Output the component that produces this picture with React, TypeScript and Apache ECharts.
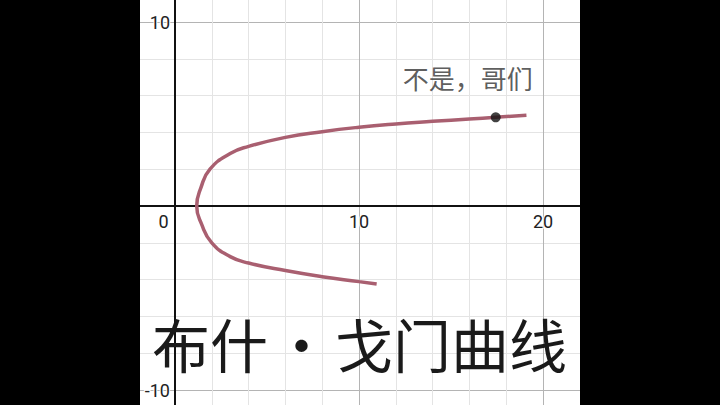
import React, { useEffect, useRef } from "react";
import * as echarts from "echarts";

// Curve, ordered from the lower end to the upper end
const curveX = [10.96, 10, 8, 6, 4, 3, 2, 1.45, 1.18, 1.41, 1.9, 3, 4, 6, 8, 10, 12, 14, 16, 17.43, 19.1];
const curveY = [-4.24, -4.11, -3.84, -3.51, -3.1, -2.75, -2, -1, 0, 1, 2, 2.85, 3.24, 3.73, 4.04, 4.28, 4.46, 4.6, 4.73, 4.82, 4.93];

const pointX = [17.43];
const pointY = [4.82];
const pointLabel = "不是，哥们";

const xTickLabels = [10, 20];
const yTickLabels = [10, -10];

const titleLeft = "布什";
const titleDot = "·";
const titleRight = "戈门曲线";

export default function App() {
  const ref = useRef<HTMLDivElement>(null);
  useEffect(() => {
    if (!ref.current) return;
    const chart = echarts.init(ref.current, null, { renderer: "svg" });
    const labelFont = "Roboto, 'Liberation Sans', sans-serif";
    const cjk = "'Noto Sans CJK SC', sans-serif";
    chart.setOption({
      animation: false,
      backgroundColor: "#ffffff",
      grid: {
        left: -9,
        top: -162,
        width: 736,
        height: 736,
        outerBoundsMode: "none",
        containLabel: false,
      },
      xAxis: {
        type: "value",
        min: -10,
        max: 30,
        interval: 10,
        position: "bottom",
        offset: -368,
        axisLine: { show: true, onZero: false, lineStyle: { color: "#111", width: 2 } },
        axisTick: { show: false },
        splitLine: { show: true, lineStyle: { color: "#b4b4b4", width: 1 } },
        minorTick: { show: false, splitNumber: 5 },
        minorSplitLine: { show: true, lineStyle: { color: "#e4e4e4", width: 1 } },
        axisLabel: {
          margin: 6,
          fontSize: 18,
          color: "#222",
          fontFamily: labelFont,
          textBorderColor: "#fff",
          textBorderWidth: 2,
          showMinLabel: true,
          showMaxLabel: true,
          hideOverlap: false,
          formatter: (v: number) =>
            v === 0 ? "{z|0}" : xTickLabels.includes(v) ? String(v) : "",
          rich: {
            z: { fontSize: 18, color: "#222", fontFamily: labelFont, padding: [0, 23, 0, 0] },
          },
        },
      },
      yAxis: {
        type: "value",
        min: -20,
        max: 20,
        interval: 10,
        position: "left",
        offset: -184,
        axisLine: { show: true, onZero: false, lineStyle: { color: "#111", width: 2 } },
        axisTick: { show: false },
        splitLine: { show: true, lineStyle: { color: "#b4b4b4", width: 1 } },
        minorTick: { show: false, splitNumber: 5 },
        minorSplitLine: { show: true, lineStyle: { color: "#e4e4e4", width: 1 } },
        axisLabel: {
          margin: 5,
          fontSize: 18,
          lineHeight: 18,
          color: "#222",
          fontFamily: labelFont,
          textBorderColor: "#fff",
          textBorderWidth: 2,
          hideOverlap: false,
          formatter: (v: number) => (yTickLabels.includes(v) ? String(v) : ""),
        },
      },
      series: [
        {
          type: "line",
          data: curveX.map((x, i) => [x, curveY[i]]),
          smooth: 0.5,
          symbol: "none",
          lineStyle: { color: "#a95f70", width: 3.5 },
          z: 3,
        },
        {
          type: "scatter",
          data: pointX.map((x, i) => [x, pointY[i]]),
          symbolSize: 10,
          itemStyle: { color: "#111" },
          z: 4,
          label: {
            show: true,
            formatter: pointLabel,
            position: [-23, -35],
            align: "center",
            verticalAlign: "middle",
            fontSize: 26,
            color: "#333",
            fontFamily: cjk,
          },
        },
      ],
      graphic: [
        { type: "rect", z: 100, shape: { x: 0, y: 0, width: 140, height: 405 }, style: { fill: "#000" } },
        { type: "rect", z: 100, shape: { x: 580, y: 0, width: 140, height: 405 }, style: { fill: "#000" } },
        {
          type: "text",
          z: 101,
          x: 152,
          y: 343,
          style: {
            text: `{a|${titleLeft}}{d|${titleDot}}{a|${titleRight}}`,
            verticalAlign: "middle",
            align: "left",
            fill: "#1a1a1a",
            rich: {
              a: { fontSize: 58, lineHeight: 58, fontFamily: cjk, fill: "#1a1a1a" },
              d: { fontSize: 58, lineHeight: 58, fontFamily: cjk, fill: "#1a1a1a", width: 67, align: "center" },
            },
          },
        },
      ],
    });
    return () => chart.dispose();
  }, []);
  return (
    <div
      ref={ref}
      style={{ position: "fixed", left: 0, top: 0, width: 720, height: 405, background: "#000" }}
    />
  );
}
